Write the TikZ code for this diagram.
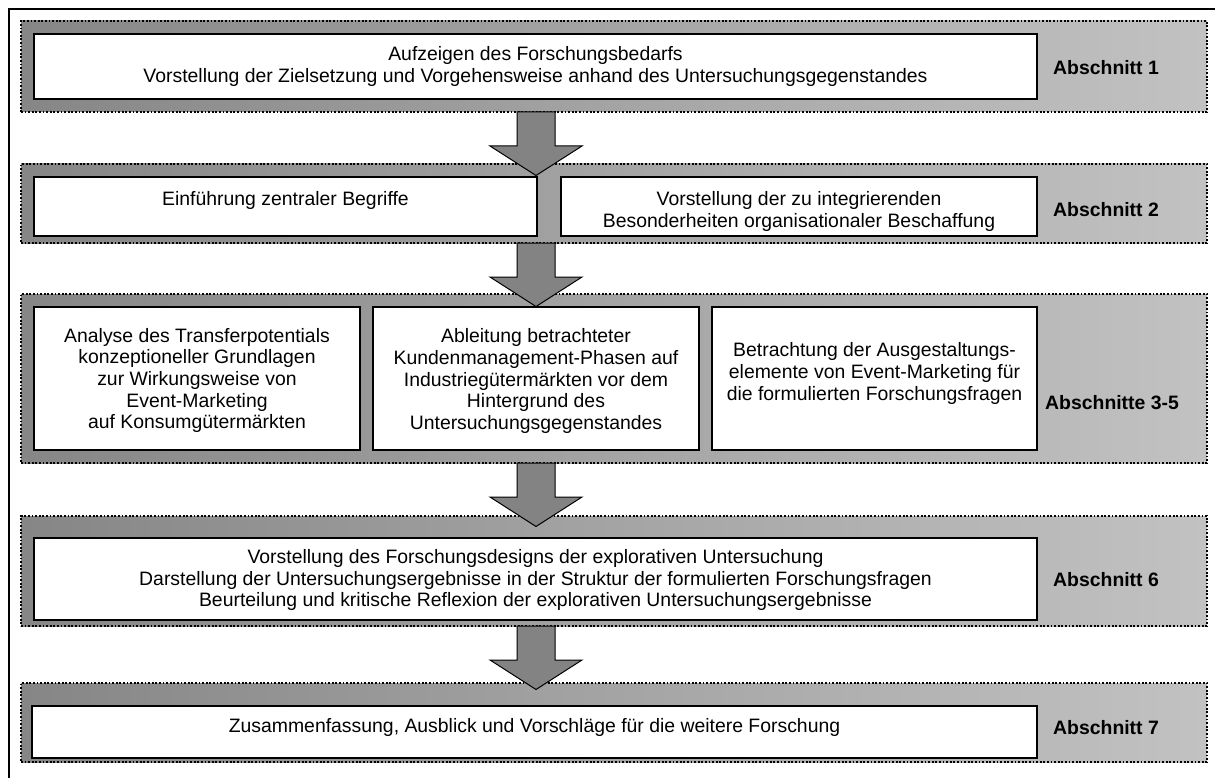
\documentclass[tikz,border=0pt]{standalone}
\usepackage{fontspec}
\setmainfont{Liberation Sans}
\usepackage{xcolor}
\usepackage{tikz}
\usetikzlibrary{calc,fit}
\definecolor{bandleft}{RGB}{134,134,134}
\definecolor{bandright}{RGB}{194,194,194}
\definecolor{arrowgray}{RGB}{131,131,131}

\begin{document}
\begin{tikzpicture}[
  x=1pt, y=-1pt,
  font=\fontsize{19.4}{21.6}\selectfont,
  band/.style={draw,dash pattern=on 1.8pt off 1.8pt,line width=1.6pt,
               left color=bandleft,right color=bandright,inner sep=0pt,outer sep=0pt},
  whitebox/.style={draw,line width=1.5pt,fill=white,inner sep=0pt,outer sep=0pt},
  boxtext/.style={align=center,inner sep=0pt},
  section/.style={font=\fontsize{19.4}{21.6}\selectfont\bfseries,anchor=west,inner sep=0pt},
  blockarrow/.style={draw,line width=1pt,fill=arrowgray,line join=miter}
]
\useasboundingbox (0,0) rectangle (1215,778);
\draw[line width=2pt] (9,9) rectangle (1230,795);

% bands
\node[band, fit={(21,21) (1207,112)}] (band1) {};
\node[band, fit={(21,164) (1207,243)}] (band2) {};
\node[band, fit={(21,294) (1207,463)}] (band3) {};
\node[band, fit={(21,516) (1207,626)}] (band4) {};
\node[band, fit={(21,683) (1207,762)}] (band5) {};

% content boxes
\node[whitebox, fit={(34,34) (1037,99)}] (b1) {};
\node[whitebox, fit={(34,177) (537,236)}] (b2a) {};
\node[whitebox, fit={(561,177) (1037,236)}] (b2b) {};
\node[whitebox, fit={(34,307) (360,450)}] (b3a) {};
\node[whitebox, fit={(373,307) (699,450)}] (b3b) {};
\node[whitebox, fit={(712,307) (1037,450)}] (b3c) {};
\node[whitebox, fit={(34,538) (1037,620)}] (b4) {};
\node[whitebox, fit={(32,706) (1037,758)}] (b5) {};

% box texts
\node[boxtext] (t1) at (b1.center)
  {Aufzeigen des Forschungsbedarfs\\Vorstellung der Zielsetzung und Vorgehensweise anhand des Untersuchungsgegenstandes};
\node[boxtext] (t2a) at ([yshift=-3pt]b2a.center) {Einführung zentraler Begriffe\\\mbox{}};
\node[boxtext] (t2b) at ([yshift=-5pt]b2b.center)
  {Vorstellung der zu integrierenden\\Besonderheiten organisationaler Beschaffung};
\node[boxtext] (t3a) at ([yshift=-2pt]b3a.center)
  {Analyse des Transferpotentials\\konzeptioneller Grundlagen\\zur Wirkungsweise von\\Event-Marketing\\auf Konsumgütermärkten};
\node[boxtext] (t3b) at ([yshift=-2.5pt]b3b.center)
  {Ableitung betrachteter\\Kundenmanagement-Phasen auf\\Industriegütermärkten vor dem\\Hintergrund des\\Untersuchungsgegenstandes};
\node[boxtext] (t3c) at ([yshift=5pt]b3c.center)
  {Betrachtung der Ausgestaltungs-\\elemente von Event-Marketing für\\die formulierten Forschungsfragen};
\node[boxtext] (t4) at ([yshift=-1pt]b4.center)
  {Vorstellung des Forschungsdesigns der explorativen Untersuchung\\Darstellung der Untersuchungsergebnisse in der Struktur der formulierten Forschungsfragen\\Beurteilung und kritische Reflexion der explorativen Untersuchungsergebnisse};
\node[boxtext] (t5) at ([yshift=5pt]b5.center)
  {Zusammenfassung, Ausblick und Vorschläge für die weitere Forschung};

% section labels
\node[section] (sec1) at (1053,68) {Abschnitt 1};
\node[section] (sec2) at (1053,210) {Abschnitt 2};
\node[section] (sec3) at (1045,403) {Abschnitte 3-5};
\node[section] (sec6) at (1053,580) {Abschnitt 6};
\node[section] (sec7) at (1053,728) {Abschnitt 7};

% block arrows between the bands
\coordinate (axis) at (536,0);
\foreach \from in {band1,band2,band3,band4}
  \draw[blockarrow] let \p1=(axis |- \from.south) in
    (\x1-19pt,\y1) -- (\x1+19pt,\y1) -- (\x1+19pt,\y1-34pt) -- (\x1+46pt,\y1-34pt)
    -- (\x1,\y1-63.5pt) -- (\x1-46pt,\y1-34pt) -- (\x1-19pt,\y1-34pt) -- cycle;
\end{tikzpicture}
\end{document}
